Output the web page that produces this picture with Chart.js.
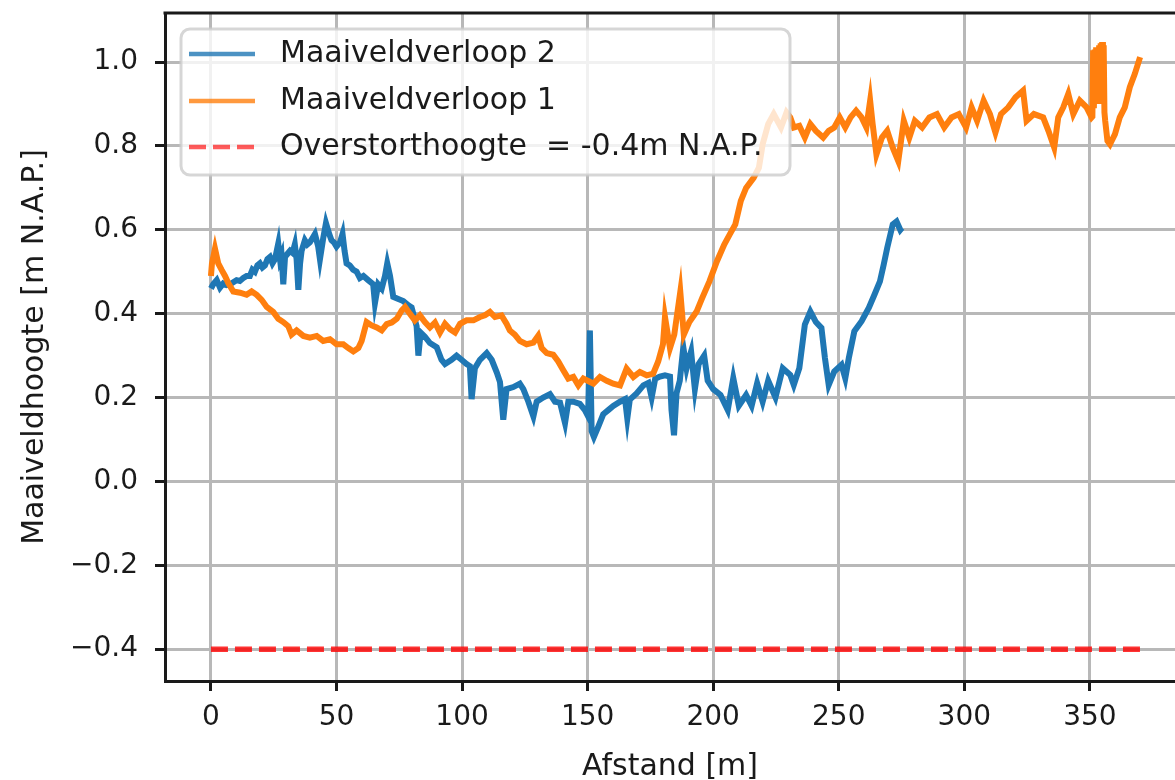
<!DOCTYPE html>
<html>
<head>
<meta charset="utf-8">
<script src="https://cdn.jsdelivr.net/npm/chart.js@4.4.0/dist/chart.umd.min.js"></script>
<style>
html, body { margin: 0; padding: 0; background: #fff; overflow: hidden; }
</style>
</head>
<body>
<canvas id="grafica" width="1175" height="780"></canvas>
<script>
// Maaiveldverloop 2 (blauw)
const blueX = [0,0.9,2.3,3.6,4.9,6.2,7.6,8.9,10.2,11.5,12.9,14.2,15.5,16.5,17.5,18.5,19.5,20.5,21.5,22.5,23.5,24.5,25.5,26.8,27.5,28.1,28.8,29.5,30.1,31.5,32.5,33.4,34.1,34.8,35.5,36.1,37.4,38.4,39.4,40.4,41.4,42.7,43.4,44.7,45.8,47.1,48.0,49.0,50.0,51.4,52.4,53.2,54.0,55.3,56.6,58.0,59.3,60.7,62.6,64.6,65.3,66.6,68.0,69.3,70.2,71.3,72.6,74.6,76.6,78.6,79.9,81.9,82.6,83.5,85.2,87.2,89.9,91.8,93.2,95.8,97.8,99.8,101.8,103.1,103.8,105.1,107.1,109.8,111.8,113.8,115.1,116.4,117.7,120.4,123.0,124.4,126.4,128.4,129.7,132.3,135.0,137.0,139.0,141.0,142.3,144.3,146.9,148.9,150.2,150.9,151.6,152.5,154.2,156.2,158.2,160.2,162.9,164.9,165.8,166.8,169.5,172.2,174.2,175.5,176.9,178.8,180.8,182.8,183.4,184.4,185.4,186.7,188.1,189.4,190.2,191.2,192.7,194.2,196.4,197.8,200.0,202.9,205.8,208.0,210.2,213.1,215.3,217.5,219.7,221.9,224.8,227.7,230.7,232.1,234.3,236.5,238.7,240.9,243.1,244.5,246.0,248.2,251.1,252.6,254.0,256.2,259.1,262.0,264.2,266.4,267.9,269.3,271.5,273.0,274.5,275.2];
const blueY = [0.46,0.47,0.48,0.462,0.472,0.468,0.47,0.475,0.48,0.478,0.485,0.49,0.49,0.505,0.50,0.515,0.52,0.51,0.515,0.53,0.535,0.52,0.53,0.567,0.53,0.54,0.47,0.535,0.54,0.55,0.545,0.565,0.53,0.457,0.52,0.55,0.575,0.565,0.57,0.58,0.59,0.56,0.53,0.58,0.616,0.59,0.575,0.57,0.56,0.57,0.59,0.55,0.52,0.515,0.505,0.50,0.485,0.49,0.48,0.47,0.425,0.47,0.46,0.49,0.52,0.49,0.44,0.435,0.43,0.42,0.415,0.37,0.30,0.355,0.345,0.33,0.32,0.29,0.28,0.29,0.30,0.29,0.28,0.275,0.196,0.27,0.29,0.306,0.29,0.26,0.237,0.147,0.22,0.225,0.233,0.22,0.19,0.155,0.19,0.20,0.208,0.19,0.188,0.139,0.19,0.19,0.185,0.17,0.155,0.36,0.12,0.106,0.13,0.16,0.17,0.18,0.19,0.196,0.15,0.195,0.21,0.229,0.235,0.20,0.245,0.25,0.253,0.25,0.17,0.11,0.21,0.24,0.32,0.27,0.29,0.31,0.22,0.28,0.30,0.24,0.22,0.206,0.17,0.246,0.18,0.206,0.18,0.234,0.19,0.24,0.20,0.27,0.254,0.23,0.27,0.374,0.405,0.38,0.366,0.294,0.23,0.262,0.278,0.246,0.294,0.358,0.382,0.414,0.445,0.477,0.517,0.557,0.613,0.62,0.60,0.605];

// Maaiveldverloop 1 (oranje)
const orangeX = [0,0.4,1.6,2.9,4.2,5.6,6.9,8.9,11.6,14.2,16.2,18.2,20.2,22.2,24.8,26.8,28.8,30.8,32.1,34.1,36.8,39.4,42.1,44.7,47.4,50.0,52.7,54.7,56.7,58.7,60.0,62.0,64.0,66.0,68.0,70.0,72.0,74.0,76.0,77.3,79.2,81.2,83.2,85.2,87.2,89.2,91.2,93.2,95.2,97.2,99.2,101.8,104.5,107.1,109.1,111.1,113.1,115.7,117.7,119.0,121.0,123.0,125.7,128.4,130.3,131.7,133.7,136.3,138.3,140.3,142.3,144.3,146.3,148.3,151.0,152.3,154.9,157.6,160.2,162.9,165.5,168.2,170.8,173.5,176.1,178.1,180.0,180.8,182.8,184.5,186.9,188.3,190.5,193.4,195.6,198.5,201.5,204.4,206.6,208.8,211.0,213.1,216.1,218.2,219.7,221.9,224.1,227.0,229.2,230.7,232.1,234.3,236.5,238.7,240.9,243.8,246.0,248.2,250.4,252.6,254.7,256.9,259.1,261.0,262.5,263.5,265.0,267.2,269.3,271.5,273.7,275.9,278.1,280.3,283.2,286.1,289.1,292.0,294.9,297.8,300.7,302.9,305.1,307.7,310.2,312.4,314.6,317.5,320.4,323.4,324.8,327.7,331.4,333.5,335.8,337.4,339.4,341.4,343.4,346.0,348.7,350.7,351.0,351.3,351.6,351.9,352.2,352.5,352.8,353.1,353.4,353.7,354.0,354.3,354.6,354.9,355.2,355.5,355.8,356.1,357.0,358.0,360.0,361.9,363.9,365.9,367.9,370.0];
const orangeY = [0.49,0.52,0.555,0.52,0.505,0.49,0.473,0.453,0.45,0.445,0.453,0.445,0.433,0.416,0.404,0.388,0.38,0.37,0.35,0.36,0.347,0.343,0.347,0.335,0.339,0.327,0.327,0.318,0.31,0.318,0.335,0.38,0.372,0.367,0.36,0.375,0.379,0.388,0.408,0.416,0.40,0.384,0.396,0.38,0.367,0.379,0.355,0.376,0.363,0.355,0.376,0.384,0.384,0.392,0.396,0.404,0.392,0.396,0.376,0.36,0.35,0.335,0.327,0.331,0.347,0.318,0.306,0.302,0.286,0.265,0.245,0.249,0.229,0.245,0.237,0.233,0.249,0.24,0.233,0.229,0.269,0.249,0.261,0.253,0.257,0.286,0.327,0.392,0.318,0.35,0.452,0.35,0.38,0.405,0.437,0.477,0.525,0.565,0.589,0.613,0.669,0.70,0.724,0.748,0.804,0.852,0.876,0.844,0.88,0.868,0.844,0.848,0.82,0.852,0.836,0.82,0.836,0.844,0.868,0.844,0.868,0.884,0.868,0.844,0.908,0.852,0.78,0.82,0.836,0.796,0.764,0.86,0.82,0.86,0.844,0.868,0.876,0.844,0.868,0.876,0.844,0.892,0.86,0.908,0.876,0.832,0.876,0.892,0.916,0.932,0.86,0.876,0.868,0.836,0.796,0.868,0.892,0.924,0.876,0.908,0.892,0.868,0.87,1.028,0.89,1.03,0.92,1.035,0.90,1.03,0.93,1.04,0.91,1.045,0.90,1.048,0.95,1.04,0.88,0.86,0.812,0.804,0.828,0.868,0.892,0.94,0.972,1.012];

// Overstorthoogte
const redX = [0, 370];
const redY = [-0.4, -0.4];

const xTicks = [0, 50, 100, 150, 200, 250, 300, 350];
const yTicks = [-0.4, -0.2, 0.0, 0.2, 0.4, 0.6, 0.8, 1.0];

const fam = "'DejaVu Sans', sans-serif";
const ink = '#1a1a1a';

const toPoints = (xs, ys) => xs.map((x, i) => ({x: x, y: ys[i]}));

// legenda binnen de grafiek, zoals matplotlib
const legendBox = {
    id: 'legendBox',
    afterDraw(chart) {
        const ctx = chart.ctx;
        const x0 = 181, y0 = 29, w = 609, h = 146, r = 9;
        ctx.save();
        ctx.beginPath();
        ctx.roundRect(x0, y0, w, h, r);
        ctx.fillStyle = 'rgba(255,255,255,0.8)';
        ctx.fill();
        ctx.lineWidth = 3;
        ctx.strokeStyle = 'rgba(204,204,204,0.8)';
        ctx.stroke();
        const rows = [54, 101, 147];
        chart.data.datasets.forEach((ds, i) => {
            ctx.beginPath();
            ctx.globalAlpha = 0.8;
            ctx.strokeStyle = ds.borderColor;
            ctx.lineWidth = 4.5;
            ctx.setLineDash(ds.borderDash || []);
            ctx.moveTo(189, rows[i]);
            ctx.lineTo(255, rows[i]);
            ctx.stroke();
            ctx.globalAlpha = 1;
            ctx.setLineDash([]);
            ctx.fillStyle = ink;
            ctx.font = '30px ' + fam;
            ctx.textBaseline = 'middle';
            ctx.fillText(ds.label, 280, rows[i]);
        });
        ctx.restore();
    }
};

// bovenste rand van de assen
const topSpine = {
    id: 'topSpine',
    afterDraw(chart) {
        const a = chart.chartArea, ctx = chart.ctx;
        ctx.save();
        ctx.strokeStyle = ink;
        ctx.lineWidth = 3;
        ctx.beginPath();
        ctx.moveTo(a.left - 1.5, a.top);
        ctx.lineTo(a.right, a.top);
        ctx.stroke();
        ctx.restore();
    }
};

const gridOpts = {color: '#b8b8b8', lineWidth: 3, tickLength: 10, tickColor: ink, tickWidth: 3};

var context = document.getElementById('grafica').getContext('2d');
window.myChart = new Chart(context, {
    type: 'line',
    data: {
        datasets: [{
            label: 'Maaiveldverloop 2',
            data: toPoints(blueX, blueY),
            borderColor: '#1f77b4',
            borderWidth: 6,
            order: 1
        }, {
            label: 'Maaiveldverloop 1',
            data: toPoints(orangeX, orangeY),
            borderColor: '#ff7f0e',
            borderWidth: 6,
            order: 0
        }, {
            label: 'Overstorthoogte  = -0.4m N.A.P.',
            data: toPoints(redX, redY),
            borderColor: 'rgba(255,0,0,0.8)',
            borderWidth: 5.5,
            borderDash: [17, 7],
            order: 2
        }]
    },
    options: {
        responsive: false,
        animation: false,
        devicePixelRatio: 1,
        elements: {point: {radius: 0}, line: {tension: 0, fill: false}},
        layout: {padding: {top: 13, left: 0, right: 0, bottom: 0}},
        plugins: {legend: {display: false}, tooltip: {enabled: false}},
        scales: {
            x: {
                type: 'linear',
                min: -18.3,
                max: 383.9,
                afterBuildTicks: s => { s.ticks = xTicks.map(v => ({value: v})); },
                afterFit: s => { s.height = 99; s.paddingLeft = 0; s.paddingRight = 0; },
                grid: gridOpts,
                border: {color: ink, width: 3},
                ticks: {color: ink, font: {family: fam, size: 28}, padding: 10, maxRotation: 0, autoSkip: false},
                title: {display: true, text: 'Afstand [m]', color: ink, font: {family: fam, size: 30}, padding: {top: 0, bottom: -5}}
            },
            y: {
                min: -0.476,
                max: 1.117,
                afterBuildTicks: s => { s.ticks = yTicks.map(v => ({value: v})); },
                afterFit: s => { s.width = 165; s.paddingTop = 0; s.paddingBottom = 0; },
                grid: gridOpts,
                border: {color: ink, width: 3},
                ticks: {
                    color: ink, font: {family: fam, size: 28}, padding: 17,
                    callback: v => (v < -0.001 ? '\u2212' : '') + Math.abs(v).toFixed(1)
                },
                title: {display: true, text: 'Maaiveldhoogte [m N.A.P.]', color: ink, font: {family: fam, size: 30}, padding: {top: 17, bottom: 0}}
            }
        }
    },
    plugins: [topSpine, legendBox]
});
</script>
</body>
</html>
